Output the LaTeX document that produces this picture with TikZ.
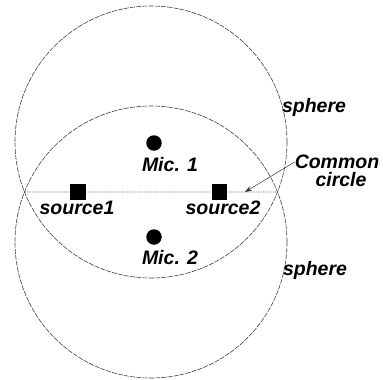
\documentclass[tikz,border=0pt]{standalone}
\usepackage{fontspec}
\setmainfont{Liberation Sans}
\usetikzlibrary{positioning,arrows.meta,intersections}

\begin{document}
\begin{tikzpicture}[
  x=1pt, y=-1pt,
  font=\fontsize{19.5}{21}\selectfont\bfseries\itshape,
  lbl/.style={inner sep=0pt},
  sph/.style={draw=black!75, line width=0.6pt, dash pattern=on 5pt off 1.2pt},
  mic/.style={circle, fill=black, inner sep=0pt, minimum size=15.5pt},
  src/.style={rectangle, fill=black, inner sep=0pt, minimum size=15.5pt},
  ptr/.style={-{Stealth[length=7pt,width=5pt]}, black!80, line width=0.5pt}
]
\useasboundingbox (0,0) rectangle (383,380);

% the two spheres
\draw[sph, name path=upper] (151,142) circle[radius=136];
\draw[sph, name path=lower] (151,242) circle[radius=136];
\path[name intersections={of=upper and lower, by={ia,ib}}];
\draw[black!70, line width=0.7pt, densely dotted] (ia) -- (ib);

% microphones and sources
\node[mic] (mic1) at (154,143) {};
\node[mic] (mic2) at (154,237) {};
\node[src] (src1) at (78,192) {};
\node[src] (src2) at (219.5,192) {};

\node[lbl] (m1lbl) at (170,165) {Mic. 1};
\node[lbl] (m2lbl) at (170,258) {Mic. 2};
\node[lbl] (s1lbl) at (77,208) {source1};
\node[lbl] (s2lbl) at (223,208) {source2};
\node[lbl] (sph1) at (314,107) {sphere};
\node[lbl] (sph2) at (315,270) {sphere};

\node[lbl] (common) at (337,162) {Common};
\node[lbl, below=3pt of common, xshift=4pt] (circ) {circle};
\coordinate (tip) at (245,192);
\draw[ptr] (common.west) -- (tip);
\end{tikzpicture}
\end{document}
